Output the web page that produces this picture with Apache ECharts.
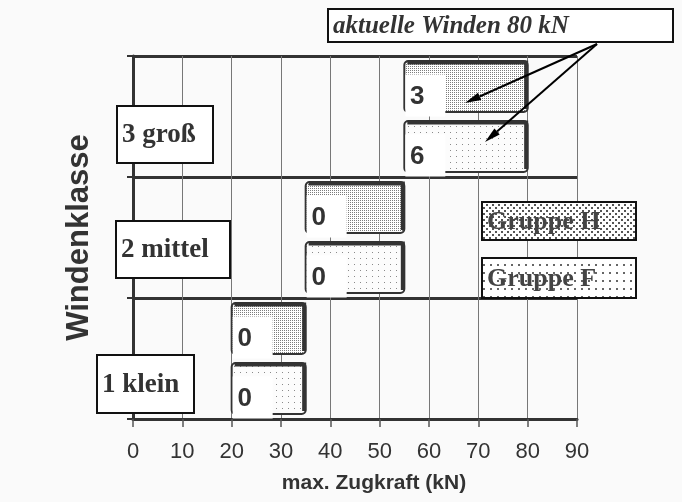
<!DOCTYPE html>
<html>
<head>
<meta charset="utf-8">
<script src="https://cdn.jsdelivr.net/npm/echarts@6/dist/echarts.min.js"></script>
<style>
  html, body { margin: 0; padding: 0; background: #fafafa; }
  #main { width: 682px; height: 502px; }
</style>
</head>
<body>
<div id="main"></div>
<script>
// Windenklasse vs. max. Zugkraft, Gruppe H / Gruppe F
const categories = ['1 klein', '2 mittel', '3 groß'];
const groupNames = ['Gruppe H', 'Gruppe F'];
const lowH = [20, 35, 55];
const highH = [35, 55, 80];
const countH = [0, 0, 3];
const lowF = [20, 35, 55];
const highF = [35, 55, 80];
const countF = [0, 0, 6];
const xMin = 0, xMax = 90, xStep = 10;
const note = 'aktuelle Winden 80 kN';

function dots(w, h, pts, size, color, bg) {
  const c = document.createElement('canvas');
  c.width = w; c.height = h;
  const g = c.getContext('2d');
  g.fillStyle = bg;
  g.fillRect(0, 0, w, h);
  g.fillStyle = color;
  pts.forEach(p => g.fillRect(p[0], p[1], size, size));
  return { image: c, repeat: 'repeat' };
}

const patH = dots(2, 2, [[0, 0]], 1, '#7c7c7c', '#ffffff');
const patF = dots(6, 6, [[0, 0]], 1, '#8a8a8a', '#fcfcfc');
const legH = dots(6, 6, [[0, 0], [3, 3]], 2, '#555', '#ffffff');
const legF = dots(7, 8, [[0, 0]], 2, '#666', '#ffffff');

function makeData(lo, hi, cnt) {
  return categories.map((c, i) => [i, lo[i], hi[i], cnt[i]]);
}

function renderBar(pattern, offset) {
  return function (params, api) {
    const cat = api.value(0);
    const p0 = api.coord([api.value(1), cat]);
    const p1 = api.coord([api.value(2), cat]);
    const band = api.size([0, 1])[1];
    const h = band * 0.42;
    const cy = p0[1] + band * offset;
    const x0 = p0[0], x1 = p1[0];
    const top = cy - h / 2, bot = cy + h / 2;
    return {
      type: 'group',
      children: [
        { type: 'rect', shape: { x: x0, y: top, width: x1 - x0, height: h, r: 4 },
          style: { fill: pattern, stroke: '#333', lineWidth: 2 } },
        { type: 'polyline', shape: { points: [[x0 + 3, top + 1.5], [x1 - 1.5, top + 1.5], [x1 - 1.5, bot - 3]] },
          style: { fill: null, stroke: '#333', lineWidth: 4 } },
        { type: 'rect', shape: { x: x0 + 1, y: cy - 12, width: 40, height: 42 },
          style: { fill: '#fff' } },
        { type: 'text', x: x0 + 13, y: cy + 10,
          style: { text: String(api.value(3)), align: 'center', verticalAlign: 'middle',
                   textAlign: 'center', textVerticalAlign: 'middle',
                   font: 'bold 26px "Liberation Sans", Arial', fill: '#333' } }
      ]
    };
  };
}

function arrow(x1, y1, x2, y2) {
  const a = Math.atan2(y2 - y1, x2 - x1);
  const L = 16, W = 4;
  const bx = x2 - L * Math.cos(a), by = y2 - L * Math.sin(a);
  const nx = -Math.sin(a) * W, ny = Math.cos(a) * W;
  return [
    { type: 'line', z: 100, shape: { x1: x1, y1: y1, x2: bx, y2: by }, style: { stroke: '#000', lineWidth: 2 } },
    { type: 'polygon', z: 100, shape: { points: [[x2, y2], [bx + nx, by + ny], [bx - nx, by - ny]] }, style: { fill: '#000' } }
  ];
}

function box(x, y, w, h, fill, label, font, color) {
  return [
    { type: 'rect', z: 100, shape: { x: x, y: y, width: w, height: h },
      style: { fill: fill, stroke: '#111', lineWidth: 2 } },
    { type: 'text', z: 101, x: x + 5, y: y + h / 2 + 1,
      style: { text: label, font: font, fill: color, align: 'left', verticalAlign: 'middle',
               textAlign: 'left', textVerticalAlign: 'middle' } }
  ];
}

const serif = '"Liberation Serif", "Times New Roman", serif';
let graphics = [];
graphics = graphics.concat(box(117, 106, 96, 57, '#fff', categories[2], 'bold 27px ' + serif, '#333'));
graphics = graphics.concat(box(116, 221, 114, 57, '#fff', categories[1], 'bold 27px ' + serif, '#333'));
graphics = graphics.concat(box(97, 355, 97, 58, '#fff', categories[0], 'bold 27px ' + serif, '#333'));
graphics = graphics.concat(box(482, 202, 154, 38, legH, groupNames[0], 'bold 26px ' + serif, '#444'));
graphics = graphics.concat(box(482, 258, 154, 40, legF, groupNames[1], 'bold 26px ' + serif, '#444'));
graphics = graphics.concat(box(328, 9, 345, 33, '#fff', note, 'italic bold 25px ' + serif, '#333'));
graphics = graphics.concat(arrow(597, 44, 465, 103));
graphics = graphics.concat(arrow(597, 44, 485, 142));

const chart = echarts.init(document.getElementById('main'));
const option = {
  backgroundColor: '#fafafa',
  animation: false,
  grid: { left: 133, right: 105, top: 56, bottom: 83 },
  xAxis: {
    type: 'value', min: xMin, max: xMax, interval: xStep,
    name: 'max. Zugkraft (kN)', nameLocation: 'middle', nameGap: 54,
    nameTextStyle: { fontFamily: '"Liberation Sans", Arial', fontWeight: 'bold', fontSize: 21, color: '#333', padding: [0, 0, 0, 38] },
    axisLine: { show: true, lineStyle: { color: '#333', width: 3 } },
    axisTick: { show: true, length: 8, lineStyle: { color: '#555', width: 1.5 } },
    axisLabel: { fontFamily: '"Liberation Sans", Arial', fontSize: 22, color: '#333', margin: 22 },
    splitLine: { show: true, lineStyle: { color: '#777', width: 1 } }
  },
  yAxis: {
    type: 'category', data: categories,
    name: 'Windenklasse', nameLocation: 'middle', nameGap: 38,
    nameTextStyle: { fontFamily: '"Liberation Sans", Arial', fontWeight: 'bold', fontSize: 31, color: '#333' },
    axisLine: { show: true, lineStyle: { color: '#333', width: 3 } },
    axisTick: { show: true, length: 6, lineStyle: { color: '#333', width: 2 } },
    axisLabel: { show: false },
    splitLine: { show: true, lineStyle: { color: '#333', width: 3 } }
  },
  series: [
    { name: groupNames[0], type: 'custom', renderItem: renderBar(patH, -0.248),
      encode: { x: [1, 2], y: 0 }, clip: false, data: makeData(lowH, highH, countH) },
    { name: groupNames[1], type: 'custom', renderItem: renderBar(patF, 0.248),
      encode: { x: [1, 2], y: 0 }, clip: false, data: makeData(lowF, highF, countF) }
  ],
  graphic: { elements: graphics }
};
option && chart.setOption(option);
</script>
</body>
</html>
